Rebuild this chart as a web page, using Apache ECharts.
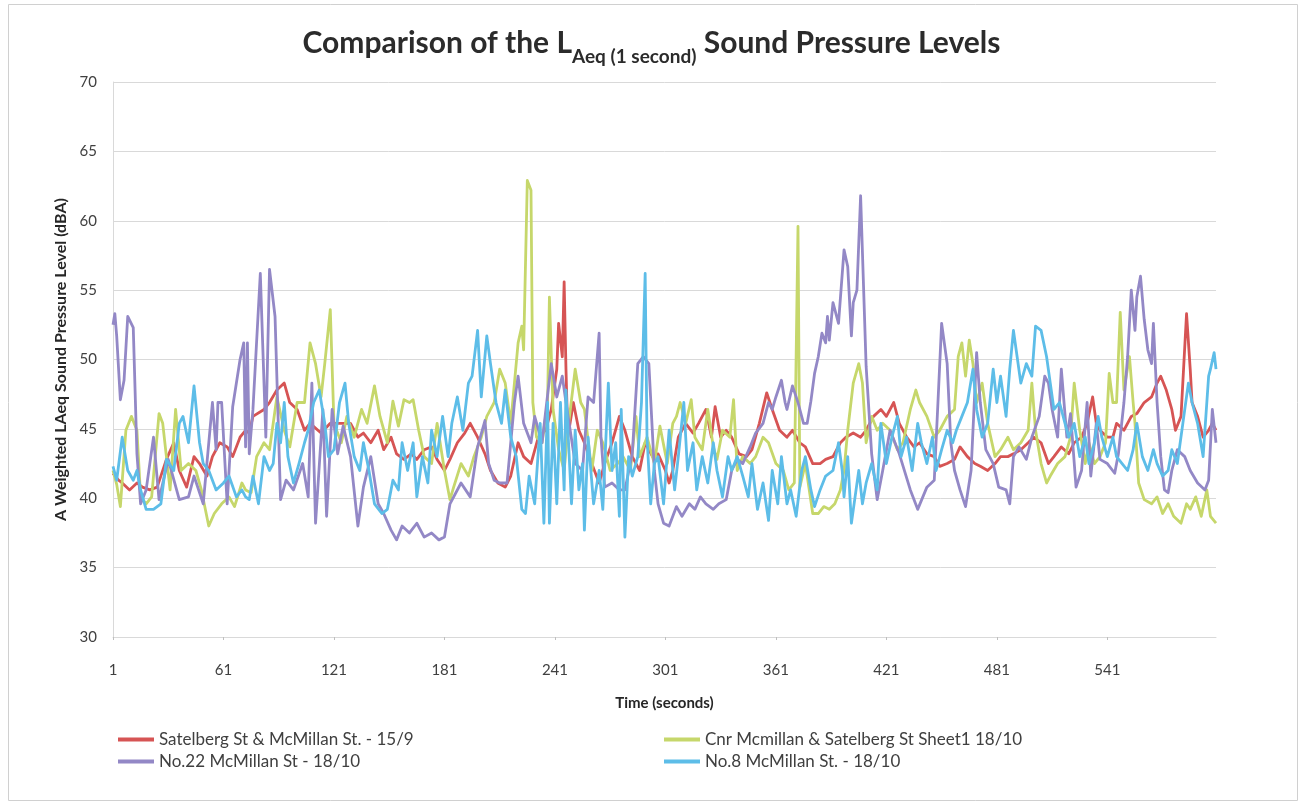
<!DOCTYPE html>
<html>
<head>
<meta charset="utf-8">
<title>Comparison of the LAeq (1 second) Sound Pressure Levels</title>
<script src="https://cdn.jsdelivr.net/npm/echarts@6.0.0/dist/echarts.min.js"></script>
<style>
  html, body { margin: 0; padding: 0; background: #fff; }
  #chart { width: 1303px; height: 809px; }
</style>
</head>
<body>
<div id="chart"></div>
<script>
// Time axis: one category per second, labelled every 60 s (1, 61, 121 ...)
const SECONDS = Array.from({ length: 600 }, (_, i) => String(i + 1))

// Readings as [second, dBA]
const satelberg = [
  [1,41.8],[4,41.3],[6,41.1],[10,40.6],[14,41.1],[17,40.8],[21,40.6],[25,40.8],[30,42.8],[34,44.0],
  [37,42.0],[41,40.8],[45,43.0],[48,42.5],[52,41.6],[55,43.0],[59,44.0],[63,43.7],[66,43.0],[70,44.4],
  [73,44.9],[75,44.7],[77,45.9],[83,46.4],[86,46.9],[90,47.8],[94,48.3],[97,46.9],[101,46.4],[105,44.9],
  [108,45.4],[114,44.7],[119,45.4],[125,45.4],[130,45.4],[134,44.4],[137,44.7],[141,44.0],[145,44.9],[148,43.5],
  [152,44.4],[155,43.2],[159,42.8],[163,43.2],[166,42.8],[170,43.5],[174,43.7],[177,42.8],[181,42.0],[184,42.8],
  [188,44.0],[192,44.7],[195,45.4],[199,44.4],[203,43.2],[206,42.0],[210,41.1],[214,40.8],[217,41.6],[221,44.0],
  [224,43.0],[228,42.5],[232,44.4],[236,44.9],[239,46.4],[242,49.3],[243,52.6],[245,50.2],[246,55.6],[247,49.3],
  [248,44.4],[251,46.9],[254,44.9],[257,44.0],[261,42.5],[265,41.1],[268,42.5],[272,44.0],[276,45.9],[279,44.9],
  [283,43.0],[287,42.0],[290,44.0],[294,43.0],[297,43.2],[301,42.0],[303,41.1],[305,42.0],[308,44.4],[312,45.4],
  [316,44.7],[319,45.4],[323,46.4],[326,44.4],[328,46.6],[331,44.4],[334,44.9],[337,44.4],[341,43.2],[345,43.0],
  [348,43.5],[352,45.4],[356,47.6],[359,46.4],[363,44.9],[367,44.4],[370,44.9],[374,44.0],[377,43.7],[381,42.5],
  [385,42.5],[388,42.8],[392,43.0],[396,44.0],[399,44.4],[403,44.7],[407,44.4],[410,44.9],[414,45.9],[418,46.4],
  [421,45.9],[425,46.9],[428,45.4],[432,44.4],[436,43.7],[439,44.0],[443,43.2],[447,43.0],[450,42.3],[454,42.5],
  [458,42.8],[461,43.7],[465,43.0],[469,42.5],[472,42.3],[476,42.0],[480,42.5],[483,43.0],[487,43.0],[490,43.2],
  [494,43.5],[498,44.0],[501,44.4],[505,44.0],[509,42.5],[512,43.0],[516,43.7],[520,43.2],[523,44.0],[527,44.4],
  [530,45.4],[533,47.3],[535,45.4],[537,44.9],[541,44.4],[544,44.4],[546,45.4],[550,44.9],[554,45.9],[557,46.1],
  [561,46.9],[565,47.3],[568,48.3],[570,48.8],[573,47.8],[576,46.4],[578,44.9],[581,45.9],[584,53.3],[586,49.3],
  [587,46.9],[590,45.9],[593,44.4],[596,44.9],[598,45.4],[600,44.9]
]

const cnrMcmillan = [
  [1,42.0],[3,41.0],[5,39.4],[8,44.9],[11,45.9],[14,44.9],[16,40.1],[19,39.6],[22,40.1],[26,46.1],
  [28,45.4],[32,40.6],[35,46.4],[38,42.0],[42,42.5],[46,42.0],[49,40.6],[53,38.0],[56,38.9],[60,39.6],
  [64,40.1],[67,39.4],[71,41.1],[73,40.6],[76,40.4],[79,43.0],[83,44.0],[86,43.5],[90,47.3],[94,44.9],
  [97,43.7],[101,46.9],[105,46.9],[108,51.2],[111,49.7],[114,47.3],[116,49.7],[119,53.6],[121,45.4],[125,44.0],
  [128,45.9],[132,44.4],[136,46.4],[139,45.4],[143,48.1],[146,45.9],[150,44.0],[153,47.0],[156,45.2],[159,47.1],
  [162,46.9],[164,47.1],[167,44.9],[170,43.0],[174,42.5],[177,45.4],[181,42.0],[184,39.9],[186,40.8],[190,42.5],
  [194,41.6],[197,43.0],[201,44.4],[204,45.9],[208,46.9],[211,49.3],[214,48.3],[217,45.4],[221,51.2],[223,52.4],
  [224,50.7],[226,62.9],[228,62.2],[229,46.9],[231,44.4],[234,44.0],[237,46.9],[238,54.5],[240,46.4],[243,43.5],
  [246,42.0],[248,44.9],[252,49.3],[255,46.9],[257,46.4],[261,42.0],[264,44.9],[267,44.0],[271,42.0],[275,42.5],
  [278,43.0],[282,42.0],[285,45.9],[287,43.0],[291,44.4],[295,42.5],[298,45.2],[302,42.5],[305,45.4],[307,45.9],
  [309,46.9],[312,45.4],[315,47.1],[317,44.4],[321,43.5],[324,46.4],[327,43.7],[329,42.8],[332,44.9],[336,44.4],
  [338,47.1],[340,42.0],[343,43.0],[347,42.5],[350,43.0],[354,44.4],[357,44.0],[361,42.5],[365,42.0],[368,40.6],
  [371,41.1],[373,59.6],[374,40.8],[377,42.5],[381,38.9],[384,38.9],[387,39.4],[390,39.2],[393,39.6],[396,40.6],
  [398,42.0],[400,44.9],[403,48.3],[406,49.7],[408,48.3],[410,44.0],[413,45.9],[416,44.9],[419,45.4],[423,44.9],
  [427,43.5],[430,44.0],[434,46.4],[437,47.8],[439,46.9],[443,45.9],[447,44.4],[450,44.9],[454,45.9],[458,46.4],
  [460,50.2],[462,51.2],[464,48.8],[466,51.4],[468,49.7],[470,46.9],[473,48.3],[476,45.4],[480,43.0],[483,43.5],
  [487,44.4],[490,43.5],[494,44.0],[498,44.9],[500,48.3],[502,44.9],[505,42.5],[508,41.1],[510,41.6],[514,42.5],
  [518,43.0],[521,44.4],[523,48.3],[526,44.9],[529,42.5],[531,44.0],[534,42.5],[537,43.0],[540,44.0],[542,49.0],
  [544,46.9],[546,46.9],[548,53.4],[550,47.8],[553,50.2],[555,46.9],[556,45.4],[558,41.1],[561,39.9],[565,39.6],
  [568,40.1],[571,38.9],[574,39.6],[577,38.7],[581,38.2],[584,39.6],[586,39.2],[589,40.1],[592,38.7],[595,40.6],
  [597,38.7],[600,38.2]
]

const no22McMillan = [
  [1,52.5],[2,53.3],[3,51.7],[5,47.1],[7,48.5],[9,53.1],[12,52.3],[14,43.2],[16,39.6],[19,40.6],
  [23,44.4],[26,39.9],[31,42.8],[37,39.9],[42,40.1],[45,41.6],[50,39.6],[55,46.9],[57,43.5],[58,46.9],
  [60,46.9],[63,39.6],[66,46.6],[70,50.0],[72,51.2],[73,43.7],[74,51.2],[75,43.2],[77,46.4],[81,56.2],
  [84,44.4],[86,56.5],[89,53.1],[92,39.9],[95,41.3],[99,40.6],[104,42.5],[107,40.1],[109,48.3],[111,38.2],
  [115,46.4],[117,38.7],[120,46.4],[123,43.2],[126,45.2],[130,43.0],[134,38.0],[137,40.8],[141,43.0],[145,39.6],
  [148,38.9],[152,37.7],[155,37.0],[158,38.0],[162,37.5],[166,38.2],[170,37.2],[174,37.5],[178,37.0],[181,37.2],
  [184,39.6],[190,41.1],[195,40.1],[199,43.7],[203,45.6],[205,42.5],[208,41.3],[211,41.1],[215,41.1],[219,46.9],
  [221,48.8],[224,45.4],[228,44.0],[230,45.9],[234,44.0],[239,49.7],[242,47.3],[245,48.8],[247,46.9],[252,42.5],
  [256,42.0],[259,47.3],[262,46.9],[265,51.9],[266,44.4],[268,40.8],[272,41.1],[276,40.6],[279,40.6],[283,43.2],
  [286,49.7],[289,50.2],[292,49.7],[295,42.0],[297,39.6],[300,38.2],[303,38.0],[305,38.7],[307,39.4],[310,38.7],
  [314,39.6],[317,39.2],[320,40.1],[323,39.6],[327,39.2],[330,39.6],[334,39.9],[337,42.0],[340,42.8],[343,42.5],
  [347,43.7],[350,44.7],[354,45.4],[357,46.9],[359,46.4],[361,47.3],[364,48.5],[366,46.9],[367,46.4],[370,48.1],
  [373,46.9],[376,45.4],[378,45.4],[380,47.0],[382,49.0],[384,50.2],[386,51.9],[388,51.2],[389,53.1],[390,51.4],
  [392,54.1],[395,52.6],[398,57.9],[400,56.7],[402,51.7],[403,54.1],[405,55.0],[407,61.8],[408,61.8],[410,49.5],
  [413,43.2],[416,39.9],[419,42.0],[423,44.9],[428,43.2],[434,40.6],[438,39.2],[443,40.8],[447,41.3],[449,46.9],
  [451,52.6],[454,49.7],[456,44.0],[458,42.0],[461,40.6],[464,39.4],[467,42.0],[470,50.5],[472,46.9],[475,43.5],
  [479,42.5],[482,40.8],[486,40.6],[488,39.6],[490,43.0],[493,43.7],[497,42.8],[500,44.4],[504,45.9],[507,48.8],
  [509,48.3],[511,46.4],[514,44.4],[516,49.3],[519,44.4],[521,46.1],[524,40.8],[527,42.0],[530,46.9],[532,41.6],
  [535,45.4],[537,42.8],[541,42.5],[545,41.8],[547,43.2],[550,46.9],[552,50.2],[554,55.0],[556,52.1],[557,54.5],
  [559,56.0],[561,52.9],[563,50.7],[565,49.7],[566,52.6],[568,46.9],[570,43.0],[572,40.6],[574,40.4],[576,42.0],
  [579,43.5],[583,43.0],[586,42.0],[590,41.1],[594,40.6],[596,41.3],[598,46.4],[600,44.0]
]

const no8McMillan = [
  [1,42.3],[3,41.3],[6,44.4],[9,42.0],[12,41.3],[14,42.0],[16,40.6],[19,39.2],[23,39.2],[27,39.6],
  [30,42.8],[34,42.0],[37,45.4],[39,45.9],[42,44.0],[45,48.1],[48,44.0],[50,42.5],[53,42.0],[57,40.6],
  [61,41.1],[64,41.6],[68,40.1],[71,40.6],[73,40.1],[75,39.9],[77,41.6],[80,39.6],[83,43.0],[86,42.0],
  [88,42.5],[90,45.4],[92,44.0],[94,46.9],[96,43.0],[99,41.1],[102,42.5],[105,44.0],[107,44.9],[110,46.9],
  [113,47.8],[116,45.4],[118,43.0],[121,43.5],[124,46.9],[127,48.3],[129,45.4],[132,43.0],[135,42.0],[137,44.0],
  [140,42.0],[143,39.6],[147,38.9],[150,39.2],[153,41.3],[156,40.6],[158,44.0],[161,42.0],[164,44.0],[166,40.1],
  [169,43.0],[172,41.1],[174,44.9],[177,43.0],[180,45.9],[183,43.0],[185,45.4],[188,47.3],[191,44.9],[194,48.3],
  [196,48.8],[199,52.1],[201,47.3],[204,51.7],[206,49.7],[209,46.9],[212,45.4],[214,47.8],[217,44.4],[220,43.0],
  [223,39.2],[225,38.9],[227,41.6],[230,39.6],[233,45.4],[235,38.2],[237,46.9],[238,38.2],[240,45.4],[242,39.6],
  [244,46.9],[246,40.6],[247,47.8],[250,39.6],[252,44.9],[254,40.6],[256,42.5],[257,37.7],[259,44.4],[262,39.6],
  [265,42.0],[267,39.2],[270,48.3],[272,42.0],[274,44.0],[276,38.7],[277,46.4],[279,37.2],[281,43.0],[283,41.6],
  [286,43.0],[288,46.9],[290,56.2],[291,44.4],[293,39.6],[295,42.5],[297,43.0],[300,39.6],[303,44.9],[306,40.6],
  [308,43.0],[311,46.9],[313,42.0],[316,44.0],[318,40.6],[321,43.0],[324,41.1],[327,44.0],[329,42.0],[332,40.1],
  [335,43.0],[337,42.0],[340,43.0],[343,41.6],[346,40.1],[348,42.5],[351,39.2],[354,41.1],[357,38.4],[359,42.0],
  [362,39.6],[364,43.0],[367,39.6],[369,40.6],[372,38.7],[375,42.0],[377,43.0],[380,40.6],[382,39.4],[385,40.6],
  [388,41.6],[392,42.0],[395,44.0],[397,42.0],[398,40.1],[400,43.0],[402,38.2],[404,40.1],[406,42.0],[408,39.6],
  [410,41.1],[413,42.5],[416,40.6],[418,45.4],[421,42.5],[424,44.4],[427,45.9],[429,43.0],[432,44.4],[435,42.0],
  [438,45.4],[440,44.0],[443,42.5],[446,44.4],[448,42.0],[451,43.5],[454,44.9],[457,44.0],[459,44.9],[462,45.9],
  [465,46.9],[468,49.3],[470,46.4],[473,44.4],[476,45.4],[479,49.3],[481,46.9],[483,48.8],[486,45.9],[488,49.3],
  [490,52.1],[492,50.2],[494,48.3],[497,49.7],[500,48.8],[502,52.4],[505,52.1],[508,50.2],[510,48.3],[512,46.4],
  [515,46.9],[518,45.4],[520,44.4],[523,45.4],[526,43.0],[529,44.4],[531,42.5],[534,44.0],[536,45.9],[538,44.4],
  [541,43.0],[544,44.4],[546,43.0],[549,42.5],[552,42.0],[555,43.5],[557,45.4],[560,43.0],[563,42.0],[566,43.5],
  [568,42.5],[571,41.6],[574,42.0],[576,43.5],[579,42.5],[582,45.4],[585,48.3],[587,46.9],[590,45.4],[593,43.0],
  [596,48.8],[597,49.3],[599,50.5],[600,49.3]
]

const FONT = 'Lato, "Noto Sans", sans-serif'
const AXIS_GREY = '#d9d9d9'
const TEXT_GREY = '#404040'

const seriesDefs = [
  { name: 'Satelberg St & McMillan St. - 15/9', data: satelberg, color: '#d65454', legendAt: [118, 731] },
  { name: 'Cnr Mcmillan & Satelberg St Sheet1 18/10', data: cnrMcmillan, color: '#c6d76b', legendAt: [664, 731] },
  { name: 'No.22 McMillan St - 18/10', data: no22McMillan, color: '#9388c6', legendAt: [118, 753] },
  { name: 'No.8 McMillan St. - 18/10', data: no8McMillan, color: '#5dbde8', legendAt: [664, 753] },
]

const chart = echarts.init(document.getElementById('chart'), null, { renderer: 'canvas' })

chart.setOption({
  animation: false,
  backgroundColor: '#ffffff',
  textStyle: { fontFamily: FONT },
  title: {
    text: '{a|Comparison of the L}{b|Aeq (1 second)}{a| Sound Pressure Levels}',
    left: 'center',
    top: 28,
    padding: 0,
    textStyle: {
      rich: {
        a: { fontSize: 30, fontWeight: 'bold', color: '#2b2b2b', fontFamily: FONT, lineHeight: 36, verticalAlign: 'top' },
        b: { fontSize: 19, fontWeight: 'bold', color: '#2b2b2b', fontFamily: FONT, lineHeight: 57 },
      },
    },
  },
  // one legend box per entry so the two columns line up like the original
  legend: seriesDefs.map(s => ({
    data: [s.name],
    left: s.legendAt[0],
    top: s.legendAt[1],
    padding: 0,
    icon: 'rect',
    itemWidth: 36,
    itemHeight: 4,
    selectedMode: false,
    textStyle: { fontSize: 17, color: TEXT_GREY, fontFamily: FONT },
  })),
  graphic: [{
    type: 'rect',
    shape: { x: 8.5, y: 4.5, width: 1289, height: 796 },
    style: { fill: 'none', stroke: '#d0d0d0', lineWidth: 1 },
    silent: true,
  }],
  grid: { left: 113, right: 87, top: 82, bottom: 172 },
  xAxis: {
    type: 'category',
    data: SECONDS,
    boundaryGap: false,
    name: 'Time (seconds)',
    nameLocation: 'middle',
    nameGap: 59,
    nameTextStyle: { fontSize: 15, fontWeight: 'bold', color: '#262626', fontFamily: FONT },
    axisLine: { lineStyle: { color: AXIS_GREY, width: 1 } },
    axisTick: { interval: 59, length: 3, lineStyle: { color: '#bfbfbf' } },
    axisLabel: { interval: 59, margin: 26, fontSize: 15, color: TEXT_GREY, fontFamily: FONT },
    splitLine: { show: false },
  },
  yAxis: {
    type: 'value',
    min: 30,
    max: 70,
    interval: 5,
    name: 'A Weighted LAeq Sound Pressure Level (dBA)',
    nameLocation: 'middle',
    nameGap: 43,
    nameTextStyle: { fontSize: 16, fontWeight: 'bold', color: '#262626', fontFamily: FONT },
    axisLine: { show: true, lineStyle: { color: AXIS_GREY, width: 1 } },
    axisTick: { show: false },
    axisLabel: { margin: 16, fontSize: 15, color: TEXT_GREY, fontFamily: FONT },
    splitLine: { lineStyle: { color: AXIS_GREY, width: 1 } },
  },
  series: seriesDefs.map(s => ({
    name: s.name,
    type: 'line',
    color: s.color,
    showSymbol: false,
    symbol: 'none',
    data: s.data.map(([sec, db]) => [sec - 1, db]),
    lineStyle: { color: s.color, width: 2.8, join: 'round' },
  })),
})
</script>
</body>
</html>
